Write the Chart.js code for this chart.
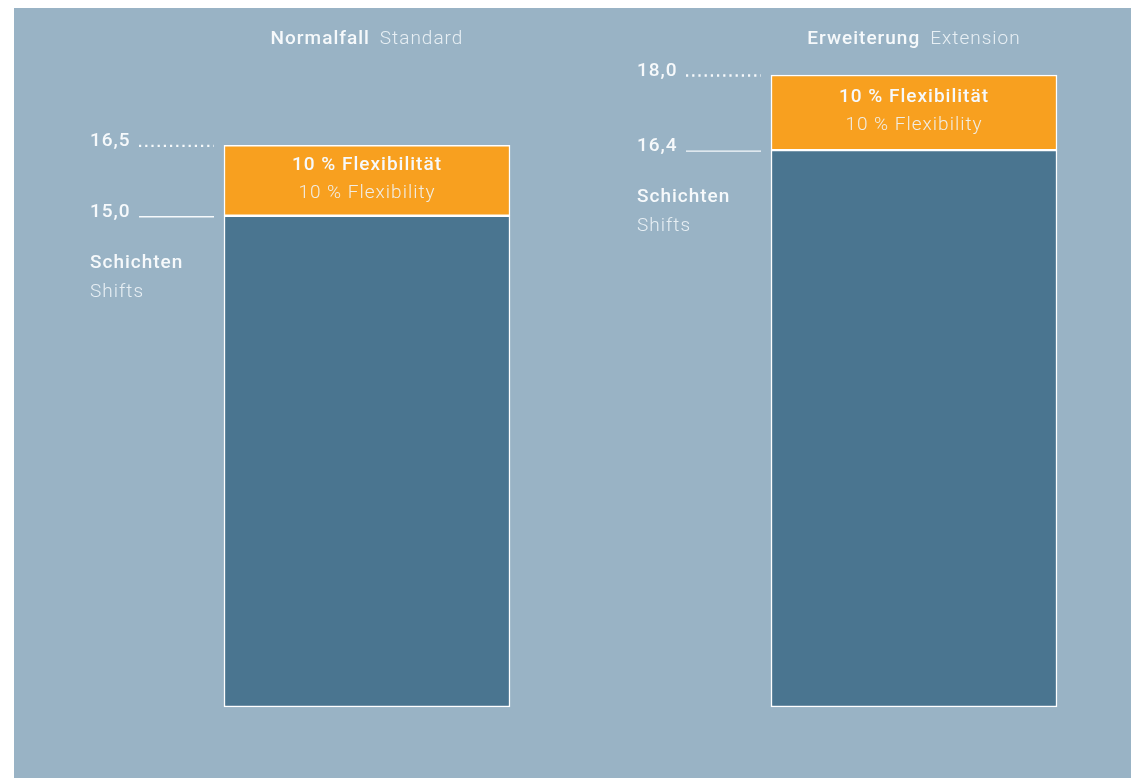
<!DOCTYPE html>
<html lang="de">
<head>
<meta charset="UTF-8" />
<title>Schichten: Normalfall / Erweiterung</title>
<style>
  html, body { margin: 0; padding: 0; background: #fff; overflow: hidden; }
  #wrap { position: relative; width: 1131px; height: 778px; }
</style>
</head>
<body>
<div id="wrap"><canvas id="shiftChart" width="1131" height="778"></canvas></div>
<script src="https://cdn.jsdelivr.net/npm/chart.js@4/dist/chart.umd.min.js"></script>
<script>
// data
var categories = ["Normalfall", "Erweiterung"];
var categoriesEn = ["Standard", "Extension"];
var shifts = [15.0, 16.4];
var flex = [1.5, 1.6];
var totals = [16.5, 18.0];
var shiftTicks = ["15,0", "16,4"];
var totalTicks = ["16,5", "18,0"];

var Y_MIN = 4.53;
var Y_MAX = 18.0;

var BG = "#99b3c5";
var DARK = "#4a7590";
var ORANGE = "#f8a01f";
var WHITE = "#f6f9fb";
var LIGHT = "rgba(240,245,248,0.9)";
var BOLD = "500 19px Roboto, 'Liberation Sans', sans-serif";
var THIN = "300 19px Roboto, 'Liberation Sans', sans-serif";

// background panel, offset like the original print crop
var panelPlugin = {
  id: "panel",
  beforeDraw: function (chart) {
    var ctx = chart.ctx;
    ctx.save();
    ctx.fillStyle = BG;
    ctx.fillRect(14, 8, chart.width - 14, chart.height - 8);
    ctx.restore();
  }
};

// all the texts and the leader lines next to the bars
var labelPlugin = {
  id: "labels",
  afterDatasetsDraw: function (chart) {
    var ctx = chart.ctx;
    var y = chart.scales.y;
    var bars = chart.getDatasetMeta(0).data;
    ctx.save();
    ctx.letterSpacing = "1px";
    for (var i = 0; i < bars.length; i++) {
      var bar = bars[i];
      var left = bar.x - bar.width / 2;
      var yTop = y.getPixelForValue(totals[i]);
      var yMid = y.getPixelForValue(shifts[i]);
      var ax = left - 134;

      // title
      ctx.textBaseline = "middle";
      ctx.textAlign = "left";
      ctx.font = BOLD;
      var w1 = ctx.measureText(categories[i]).width;
      ctx.font = THIN;
      var w2 = ctx.measureText(categoriesEn[i]).width;
      var tx = bar.x - (w1 + 10 + w2) / 2;
      ctx.font = BOLD;
      ctx.fillStyle = WHITE;
      ctx.fillText(categories[i], tx, 39);
      ctx.font = THIN;
      ctx.fillStyle = LIGHT;
      ctx.fillText(categoriesEn[i], tx + w1 + 10, 39);

      // value ticks
      ctx.textBaseline = "alphabetic";
      ctx.font = BOLD;
      ctx.fillStyle = WHITE;
      ctx.fillText(totalTicks[i], ax, yTop + 1);
      ctx.fillText(shiftTicks[i], ax, yMid + 1);

      ctx.strokeStyle = WHITE;
      ctx.lineWidth = 2.3;
      ctx.setLineDash([2.2, 4]);
      ctx.beginPath();
      ctx.moveTo(ax + 49, yTop + 0.5);
      ctx.lineTo(left - 10, yTop + 0.5);
      ctx.stroke();
      ctx.setLineDash([]);
      ctx.lineWidth = 1.3;
      ctx.beginPath();
      ctx.moveTo(ax + 49, yMid + 1);
      ctx.lineTo(left - 10, yMid + 1);
      ctx.stroke();

      // Schichten / Shifts
      ctx.textBaseline = "middle";
      ctx.font = BOLD;
      ctx.fillStyle = WHITE;
      ctx.fillText("Schichten", ax, yMid + 47);
      ctx.font = THIN;
      ctx.fillStyle = LIGHT;
      ctx.fillText("Shifts", ax, yMid + 76);

      // inside the orange part
      var cy = (yTop + yMid) / 2;
      ctx.textAlign = "center";
      ctx.font = BOLD;
      ctx.fillStyle = WHITE;
      ctx.fillText("10 % Flexibilität", bar.x, cy - 15);
      ctx.font = THIN;
      ctx.fillStyle = LIGHT;
      ctx.fillText("10 % Flexibility", bar.x, cy + 13);
    }
    ctx.restore();
  }
};

var ctx = document.getElementById("shiftChart").getContext("2d");
var shiftChart = new Chart(ctx, {
  type: "bar",
  data: {
    labels: categories,
    datasets: [
      {
        label: "Schichten",
        data: shifts,
        base: Y_MIN, // bars start at the bottom of the (cut) axis
        backgroundColor: DARK,
        borderColor: "#ffffff",
        borderWidth: 1.5,
        borderSkipped: false,
        barThickness: 286,
        clip: false
      },
      {
        label: "10 % Flexibilität",
        data: flex,
        backgroundColor: ORANGE,
        borderColor: "#ffffff",
        borderWidth: 1.5,
        borderSkipped: false,
        barThickness: 286,
        clip: false
      }
    ]
  },
  options: {
    responsive: false,
    animation: false,
    layout: { padding: { left: 367, right: 217, top: 75, bottom: 71 } },
    plugins: { legend: { display: false }, tooltip: { enabled: false } },
    scales: {
      x: { stacked: true, display: false, offset: false },
      y: { stacked: true, display: false, min: Y_MIN, max: Y_MAX }
    }
  },
  plugins: [panelPlugin, labelPlugin]
});
</script>
</body>
</html>
